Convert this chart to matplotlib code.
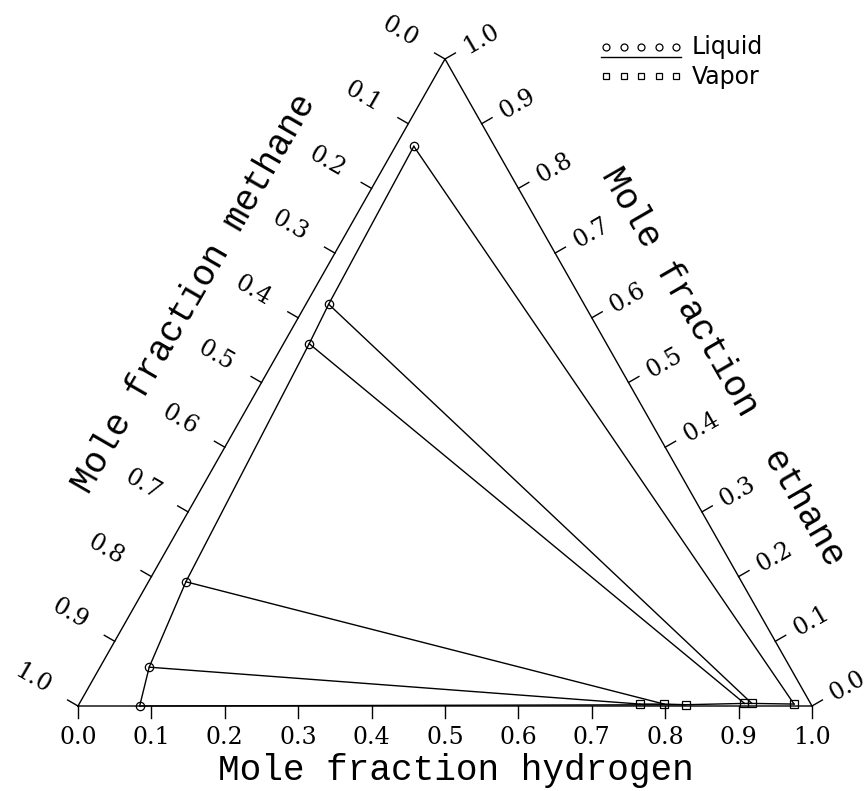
import numpy as np
import matplotlib
matplotlib.use("Agg")
import matplotlib.pyplot as plt

# ---------------- data (mole fractions) ----------------
# liquid phase compositions (hydrogen, ethane); methane = 1 - H2 - C2H6
liq_h2 = [0.084, 0.067, 0.051, 0.035, 0.031, 0.025]
liq_c2 = [0.000, 0.060, 0.192, 0.560, 0.621, 0.865]
# equilibrium vapor phase compositions (same order -> tie lines)
vap_h2 = [0.827, 0.764, 0.797, 0.906, 0.916, 0.974]
vap_c2 = [0.002, 0.003, 0.003, 0.004, 0.004, 0.003]

tick_vals = [0.0, 0.1, 0.2, 0.3, 0.4, 0.5, 0.6, 0.7, 0.8, 0.9, 1.0]
tick_labels = ["%.1f" % v for v in tick_vals]

title_bottom = "Mole fraction hydrogen"
title_left = "Mole fraction methane"
title_right = "Mole fraction  ethane"
legend_labels = ["Liquid", "Vapor"]

# ---------------- geometry helpers ----------------
W, H = 866, 791
X0, XW = 78.0, 734.0      # pixel of H2=0 vertex, width of base
Y0, YH = 706.0, 647.0     # pixel of base line, height of triangle


def cart(h, e):
    h = np.asarray(h, float)
    e = np.asarray(e, float)
    return h + e / 2.0, e


def px(dx, dy):
    """pixel offset (dx right, dy up) -> data offset"""
    return dx / XW, dy / YH


fig = plt.figure(figsize=(W / 100, H / 100), dpi=100)
ax = fig.add_axes([0, 0, 1, 1])
ax.set_xlim(-X0 / XW, (W - X0) / XW)
ax.set_ylim(-(H - Y0) / YH, Y0 / YH)
ax.axis("off")

lw = 1.0
# triangle frame
fx, fy = cart([0, 1, 0, 0], [0, 0, 1, 0])
ax.plot(fx, fy, color="k", lw=lw)

tick_len = 12
serif = "DejaVu Serif"
mono = "Liberation Mono"
tfs = 17
c30, s30 = np.cos(np.radians(30)), np.sin(np.radians(30))

for v, lab in zip(tick_vals, tick_labels):
    # bottom axis (hydrogen)
    x, y = cart(v, 0)
    dx, dy = px(0, -tick_len)
    ax.plot([x, x + dx], [y, y + dy], color="k", lw=lw)
    ax.annotate(lab, (x, y), xytext=(0, -31), textcoords="offset pixels",
                ha="center", va="center", fontsize=tfs, family=serif)
    # left axis (methane): methane=v on left edge -> ethane = 1-v, h2 = 0
    x, y = cart(0, 1 - v)
    dx, dy = px(-tick_len * c30, tick_len * s30)
    ax.plot([x, x + dx], [y, y + dy], color="k", lw=lw)
    ax.annotate(lab, (x, y), xytext=(-45, 27), textcoords="offset pixels",
                ha="center", va="center", fontsize=tfs, family=serif,
                rotation=-30, rotation_mode="anchor")
    # right axis (ethane): ethane=v on right edge -> h2 = 1-v
    x, y = cart(1 - v, v)
    dx, dy = px(tick_len * c30, tick_len * s30)
    ax.plot([x, x + dx], [y, y + dy], color="k", lw=lw)
    ax.annotate(lab, (x, y), xytext=(36, 20), textcoords="offset pixels",
                ha="center", va="center", fontsize=tfs, family=serif,
                rotation=30, rotation_mode="anchor")

# axis titles
fig.text(456 / W, 1 - 770 / H, title_bottom, ha="center", va="center",
         fontsize=26, family=mono)
fig.text(194 / W, 1 - 294 / H, title_left, ha="center", va="center",
         fontsize=26, family=mono, rotation=60, rotation_mode="anchor")
fig.text(723 / W, 1 - 367 / H, title_right, ha="center", va="center",
         fontsize=26, family=mono, rotation=-60, rotation_mode="anchor")

# liquid curve
lx, ly = cart(liq_h2, liq_c2)
ax.plot(lx, ly, color="k", lw=lw, marker="o", ms=6, mfc="none", mec="k", mew=0.9)
# vapor curve
order = np.argsort(vap_h2)
vx, vy = cart(np.array(vap_h2)[order], np.array(vap_c2)[order])
ax.plot(vx, vy, color="k", lw=lw, marker="s", ms=6, mfc="none", mec="k", mew=0.9)
# tie lines
for h1, e1, h2, e2 in zip(liq_h2, liq_c2, vap_h2, vap_c2):
    a, b = cart([h1, h2], [e1, e2])
    ax.plot(a, b, color="k", lw=lw)

# legend (drawn manually)
lg_x = np.linspace(606, 676, 5) / W
ax_l = fig.add_axes([0, 0, 1, 1], facecolor="none")
ax_l.set_xlim(0, 1)
ax_l.set_ylim(0, 1)
ax_l.axis("off")
ax_l.plot(lg_x, [1 - 47 / H] * 5, ls="none", marker="o", ms=5, mfc="none", mec="k", mew=0.9)
ax_l.plot([lg_x[0] - 5 / W, lg_x[-1] + 5 / W], [1 - 57 / H] * 2, color="k", lw=1)
ax_l.plot(lg_x, [1 - 76 / H] * 5, ls="none", marker="s", ms=5, mfc="none", mec="k", mew=0.9)
ax_l.text(692 / W, 1 - 47 / H, legend_labels[0], ha="left", va="center", fontsize=17,
          family="DejaVu Sans")
ax_l.text(692 / W, 1 - 77 / H, legend_labels[1], ha="left", va="center", fontsize=17,
          family="DejaVu Sans")

fig.savefig("out.png", dpi=100)
